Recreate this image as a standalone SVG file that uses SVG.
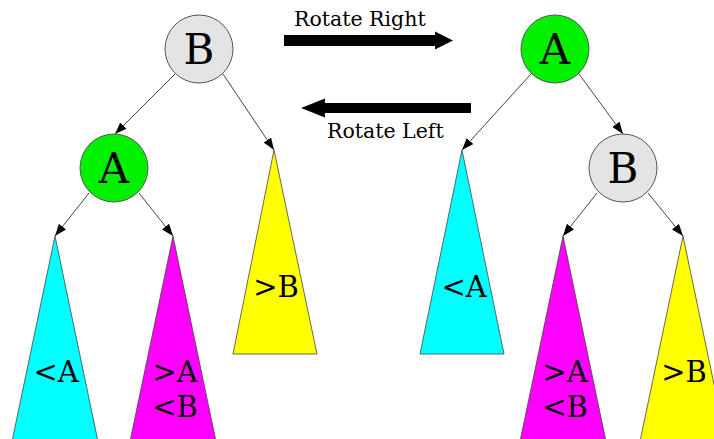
<svg xmlns="http://www.w3.org/2000/svg" width="714" height="439" viewBox="0 0 714 439">
<style>
text{font-family:"DejaVu Serif","Liberation Serif",serif;fill:#000}
.big{font-size:42px;text-anchor:middle}
.lbl{font-size:29px;text-anchor:middle}
.cap{font-size:20.5px}
.node{stroke:#555;stroke-width:1}
.tri{stroke:#444;stroke-width:0.8}
.edge{stroke:#444;stroke-width:1;fill:none;marker-end:url(#ah)}
</style>
<defs>
<marker id="ah" viewBox="0 0 12 9" refX="12" refY="4.5" markerWidth="12" markerHeight="9" markerUnits="userSpaceOnUse" orient="auto">
<path d="M0,0 L12,4.5 L0,9 Z" fill="#000"/>
</marker>
</defs>
<rect width="714" height="439" fill="#fff"/>
<g id="connectors">
<line class="edge" x1="175" y1="74" x2="115" y2="134"/>
<line class="edge" x1="223" y1="74" x2="274" y2="150"/>
<line class="edge" x1="89" y1="193" x2="55" y2="236"/>
<line class="edge" x1="139" y1="193" x2="173" y2="236"/>
<line class="edge" x1="531" y1="74" x2="462" y2="150"/>
<line class="edge" x1="579" y1="74" x2="623" y2="134"/>
<line class="edge" x1="597" y1="193" x2="563" y2="236"/>
<line class="edge" x1="648" y1="193" x2="683" y2="236"/>
</g>
<g id="rotate-right">
<path d="M284,35 H435 V31.5 L453,40.5 L435,49.5 V46 H284 Z" fill="#000"/>
<text class="cap" x="294" y="26">Rotate Right</text>
</g>
<g id="rotate-left">
<path d="M471,103 H325 V98.5 L301,108 L325,117.5 V113 H471 Z" fill="#000"/>
<text class="cap" x="327" y="138">Rotate Left</text>
</g>
<g id="left-B">
<circle class="node" cx="199" cy="49" r="34" fill="#e4e4e4"/>
<text class="big" x="199" y="64">B</text>
</g>
<g id="left-A">
<circle class="node" cx="114" cy="168" r="34" fill="#00f000"/>
<text class="big" x="114" y="183">A</text>
</g>
<g id="left-ltA">
<path class="tri" d="M55,236 L10,451 L100,451 Z" fill="#00ffff"/>
<text class="lbl" x="56" y="382">&lt;A</text>
</g>
<g id="left-gtA-ltB">
<path class="tri" d="M173,236 L128,451 L218,451 Z" fill="#ff00ff"/>
<text class="lbl" x="175" y="382">&gt;A</text>
<text class="lbl" x="175" y="417">&lt;B</text>
</g>
<g id="left-gtB">
<path class="tri" d="M274,150 L233,354 L317,354 Z" fill="#ffff00"/>
<text class="lbl" x="276" y="297">&gt;B</text>
</g>
<g id="right-A">
<circle class="node" cx="555" cy="49" r="34" fill="#00f000"/>
<text class="big" x="555" y="64">A</text>
</g>
<g id="right-B">
<circle class="node" cx="623" cy="168" r="34" fill="#e4e4e4"/>
<text class="big" x="623" y="183">B</text>
</g>
<g id="right-ltA">
<path class="tri" d="M462,150 L420,354 L504,354 Z" fill="#00ffff"/>
<text class="lbl" x="464" y="297">&lt;A</text>
</g>
<g id="right-gtA-ltB">
<path class="tri" d="M563,236 L518,451 L608,451 Z" fill="#ff00ff"/>
<text class="lbl" x="565" y="382">&gt;A</text>
<text class="lbl" x="565" y="417">&lt;B</text>
</g>
<g id="right-gtB">
<path class="tri" d="M683,236 L638,451 L728,451 Z" fill="#ffff00"/>
<text class="lbl" x="684" y="382">&gt;B</text>
</g>
</svg>
